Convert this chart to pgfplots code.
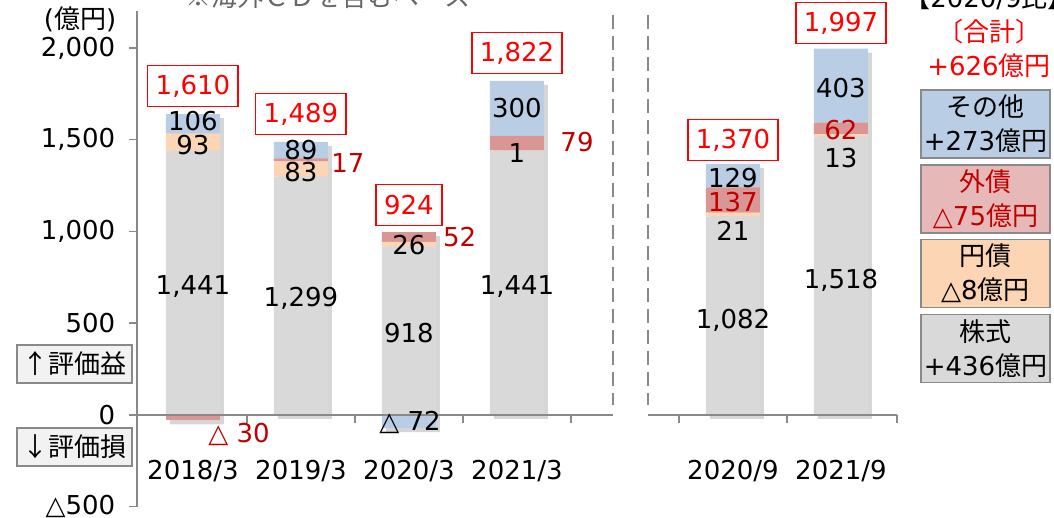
\documentclass[border=0pt]{standalone}
\usepackage{pgfplots}
\pgfplotsset{compat=1.18}
\usepackage{fontspec}
\setmainfont{DejaVu Sans}
\newfontfamily\jp{Noto Sans CJK JP}
\newcommand\J[1]{{\jp #1}}
\newcommand\F{\fontsize{26}{34}\selectfont}
\definecolor{cStock}{HTML}{D9D9D9}
\definecolor{cYen}{HTML}{FCD5B5}
\definecolor{cFor}{HTML}{DA9694}
\definecolor{cForL}{HTML}{E6B9B8}
\definecolor{cOth}{HTML}{B9CDE5}
\definecolor{dred}{HTML}{C00000}
\definecolor{axgray}{HTML}{898989}
\pgfplotsset{base/.style={anchor=south west, scale only axis, width=768.96pt, height=495.45pt,
  xmin=-0.52, xmax=6.6, ymin=-500, ymax=2200, clip=false}}
\begin{document}
\begin{tikzpicture}[x=1pt,y=1pt]
\useasboundingbox (0,0) rectangle (1054,518);
% shadows
\begin{axis}[base, at={(140.8pt,7.25pt)}, hide axis, ybar, bar width=54pt]
\addplot[fill=black, fill opacity=0.16, draw=none, bar shift=0pt] coordinates {(0,1640) (1,1488) (2,996) (3,1821) (5,1369) (6,1996)};
\addplot[fill=black, fill opacity=0.16, draw=none, bar shift=0pt] coordinates {(0,-30) (2,-72)};
\end{axis}
% main stacked bars
\begin{axis}[base, at={(136.8pt,11.25pt)}, ybar stacked, bar width=54pt,
  axis y line*=left, axis x line*=middle, x axis line style={draw=none},
  xtick={0,1,2,3,5,6}, xticklabels={2018/3,2019/3,2020/3,2021/3,2020/9,2021/9},
  x tick style={draw=none},
  ytick={-500,0,500,1000,1500,2000}, yticklabels={△500,0,500,{1,000},{1,500},{2,000}},
  y axis line style={axgray, line width=1.5pt}, y tick style={axgray, line width=1.5pt},
  tick align=outside, major tick length=8pt,
  tick label style={font=\F}, yticklabel style={xshift=-10pt}, xticklabel style={yshift=-34pt}]
\addplot[fill=cStock, draw=none] coordinates {(0,1441) (1,1299) (2,918) (3,1441) (5,1082) (6,1518)};
\addplot[fill=cYen, draw=none] coordinates {(0,93) (1,83) (2,26) (3,1) (5,21) (6,13)};
\addplot[fill=cFor, draw=none] coordinates {(0,0) (1,17) (2,52) (3,79) (5,137) (6,62)};
\addplot[fill=cOth, draw=none] coordinates {(0,106) (1,89) (2,0) (3,300) (5,129) (6,403)};
\end{axis}
% negatives, axis decorations, labels
\begin{axis}[base, at={(136.8pt,11.25pt)}, hide axis, ybar, bar width=54pt]
\addplot[fill=cFor, draw=none, bar shift=0pt] coordinates {(0,-30)};
\addplot[fill=cOth, draw=none, bar shift=0pt] coordinates {(2,-72)};
\draw[axgray, line width=1.5pt] (axis cs:-0.52,0) -- (axis cs:3.889,0);
\draw[axgray, line width=1.5pt] (axis cs:4.213,0) -- (axis cs:6.52,0);
\draw[axgray, line width=1.5pt] (axis cs:0.5,0) -- (axis cs:0.5,-44);
\draw[axgray, line width=1.5pt] (axis cs:1.5,0) -- (axis cs:1.5,-44);
\draw[axgray, line width=1.5pt] (axis cs:2.5,0) -- (axis cs:2.5,-44);
\draw[axgray, line width=1.5pt] (axis cs:3.5,0) -- (axis cs:3.5,-44);
\draw[axgray, line width=1.5pt] (axis cs:4.5,0) -- (axis cs:4.5,-44);
\draw[axgray, line width=1.5pt] (axis cs:5.5,0) -- (axis cs:5.5,-44);
\draw[axgray, line width=1.5pt] (axis cs:6.52,0) -- (axis cs:6.52,-44);
\draw[axgray, line width=1.8pt, dash pattern=on 14pt off 7pt] (axis cs:3.889,2180) -- (axis cs:3.889,55);
\draw[axgray, line width=1.8pt, dash pattern=on 14pt off 7pt] (axis cs:4.213,2180) -- (axis cs:4.213,55);
% totals
\tikzset{tot/.style={draw=red, line width=1.5pt, text=red, font=\F, inner xsep=8pt, minimum height=41pt}}
\node[tot] at (axis cs:0,1793) {1,610};
\node[tot] at (axis cs:1,1640) {1,489};
\node[tot] at (axis cs:2,1144) {924};
\node[tot] at (axis cs:3,1973) {1,822};
\node[tot] at (axis cs:5,1499) {1,370};
\node[tot] at (axis cs:6,2136) {1,997};
% segment labels
\tikzset{lb/.style={font=\F, inner sep=0pt}}
\node[lb] at (axis cs:0,1602) {106};
\node[lb] at (axis cs:0,1471) {93};
\node[lb] at (axis cs:0,698) {1,441};
\node[lb, text=dred] at (axis cs:0.426,-104) {△ 30};
\node[lb] at (axis cs:1,1444) {89};
\node[lb] at (axis cs:1,1324) {83};
\node[lb, text=dred] at (axis cs:1.435,1373) {17};
\node[lb] at (axis cs:1,638) {1,299};
\node[lb] at (axis cs:2,926) {26};
\node[lb, text=dred] at (axis cs:2.47,970) {52};
\node[lb] at (axis cs:2,447) {918};
\node[lb] at (axis cs:2.01,-38) {△ 72};
\node[lb] at (axis cs:3,1673) {300};
\node[lb] at (axis cs:3,1428) {1};
\node[lb, text=dred] at (axis cs:3.556,1488) {79};
\node[lb] at (axis cs:3,698) {1,441};
\node[lb] at (axis cs:5,1292) {129};
\node[lb, text=dred] at (axis cs:5,1161) {137};
\node[lb] at (axis cs:5,1003) {21};
\node[lb] at (axis cs:5,518) {1,082};
\node[lb] at (axis cs:6,1782) {403};
\node[lb, text=dred] at (axis cs:6,1553) {62};
\node[lb] at (axis cs:6,1401) {13};
\node[lb] at (axis cs:6,736) {1,518};
\end{axis}
% outside texts
\node[font=\F] at (80,499) {(\J{億円})};
\node[font=\F, text=black!60] at (328,521) {\J{※海外ＣＤを含むベース}};
\node[font=\F] at (989,520) {\J{【}2020/9\J{比】}};
\node[font=\F, text=red] at (989,486) {\J{〔合計〕}};
\node[font=\F, text=red] at (989,452) {+626\J{億円}};
\tikzset{lg/.style={draw=axgray, line width=1.5pt, minimum width=129pt, minimum height=68pt, inner sep=0pt, align=center, font=\F}}
\node[lg, fill=cOth] at (985.5,394) {\J{その他}\\+273\J{億円}};
\node[lg, fill=cForL, text=dred] at (985.5,319) {\J{外債}\\△75\J{億円}};
\node[lg, fill=cYen] at (985.5,244.5) {\J{円債}\\△8\J{億円}};
\node[lg, fill=cStock] at (985.5,169.5) {\J{株式}\\+436\J{億円}};
\tikzset{sd/.style={draw=axgray, line width=1.5pt, fill=black!5, minimum width=115pt, minimum height=38pt, inner sep=0pt, font=\F}}
\node[sd] at (74.5,154) {\J{↑評価益}};
\node[sd] at (74.5,71) {\J{↓評価損}};
\end{tikzpicture}
\end{document}
